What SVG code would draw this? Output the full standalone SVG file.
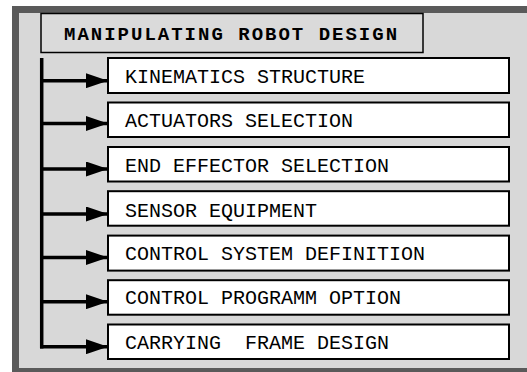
<svg xmlns="http://www.w3.org/2000/svg" width="527" height="372" viewBox="0 0 527 372">
<defs>
<style>
.box{fill:#ffffff;stroke:#000000;stroke-width:2}
.lbl{font-family:"Liberation Mono","Courier New",monospace;font-size:20px;fill:#000000;white-space:pre}
.ttl{font-family:"Liberation Mono","Courier New",monospace;font-size:19px;font-weight:bold;letter-spacing:2px;fill:#000000}
.conn{fill:none;stroke:#000000;stroke-width:3.5}
</style>
<marker id="ah" markerUnits="userSpaceOnUse" markerWidth="22" markerHeight="15" refX="22" refY="7.5" orient="auto">
<path d="M0,0 L22,7.5 L0,15 Z" fill="#000000"/>
</marker>
</defs>
<rect x="0" y="0" width="527" height="372" fill="#ffffff"/>
<g id="panel">
<rect x="12" y="6" width="515" height="366" fill="#5a5a5a"/>
<rect x="19" y="13" width="508" height="355" fill="#d8d8d8"/>
</g>
<g id="title">
<rect x="41" y="13.5" width="382" height="39" fill="#dadada" stroke="#000000" stroke-width="1.5"/>
<text class="ttl" x="64" y="39.5">MANIPULATING ROBOT DESIGN</text>
</g>
<g id="connectors">
<line class="conn" x1="41.7" y1="58" x2="41.7" y2="348.4"/>
<line class="conn" x1="40" y1="80.7" x2="108" y2="80.7" marker-end="url(#ah)"/>
<line class="conn" x1="40" y1="123.5" x2="108" y2="123.5" marker-end="url(#ah)"/>
<line class="conn" x1="40" y1="169" x2="108" y2="169" marker-end="url(#ah)"/>
<line class="conn" x1="40" y1="214" x2="108" y2="214" marker-end="url(#ah)"/>
<line class="conn" x1="40" y1="257.5" x2="108" y2="257.5" marker-end="url(#ah)"/>
<line class="conn" x1="40" y1="301.7" x2="108" y2="301.7" marker-end="url(#ah)"/>
<line class="conn" x1="40" y1="346.7" x2="108" y2="346.7" marker-end="url(#ah)"/>
</g>
<g id="n1"><rect class="box" x="108" y="58" width="401" height="35"/><text class="lbl" x="125" y="83.3">KINEMATICS STRUCTURE</text></g>
<g id="n2"><rect class="box" x="108" y="102.5" width="401" height="34.5"/><text class="lbl" x="125" y="127">ACTUATORS SELECTION</text></g>
<g id="n3"><rect class="box" x="108" y="147" width="401" height="34.5"/><text class="lbl" x="125" y="172">END EFFECTOR SELECTION</text></g>
<g id="n4"><rect class="box" x="108" y="191.2" width="401" height="34.5"/><text class="lbl" x="125" y="216.5">SENSOR EQUIPMENT</text></g>
<g id="n5"><rect class="box" x="108" y="235.6" width="401" height="35"/><text class="lbl" x="125" y="260">CONTROL SYSTEM DEFINITION</text></g>
<g id="n6"><rect class="box" x="108" y="280.2" width="401" height="34.5"/><text class="lbl" x="125" y="304.3">CONTROL PROGRAMM OPTION</text></g>
<g id="n7"><rect class="box" x="108" y="324.5" width="401" height="34.5"/><text class="lbl" x="125" y="349" xml:space="preserve">CARRYING  FRAME DESIGN</text></g>
</svg>
